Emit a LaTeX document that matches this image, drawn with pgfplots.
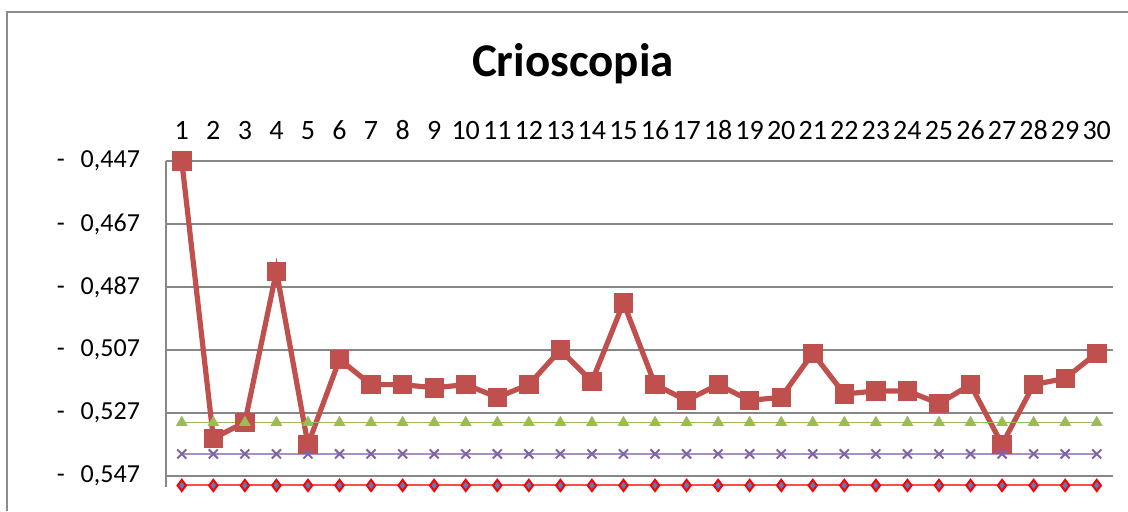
\documentclass[border=0pt]{standalone}
\usepackage{fontspec}
\setmainfont{Carlito}
\usepackage{pgfplots}
\usepackage{pgfplotstable}
\pgfplotsset{compat=1.18}
\definecolor{Grid}{HTML}{878787}
\definecolor{Frame}{HTML}{8C8C8C}
\definecolor{Main}{HTML}{C0504D}
\definecolor{Green}{HTML}{9BBB59}
\definecolor{Purple}{HTML}{8064A2}
\definecolor{PurpleLine}{HTML}{A592C4}
\definecolor{Blue}{HTML}{4F81BD}

% x, crioscopia, three reference levels
\pgfplotstableread{
x  crio    lvA    lvB    lvC
1  -0.447  -0.530 -0.540 -0.550
2  -0.535  -0.530 -0.540 -0.550
3  -0.530  -0.530 -0.540 -0.550
4  -0.482  -0.530 -0.540 -0.550
5  -0.537  -0.530 -0.540 -0.550
6  -0.510  -0.530 -0.540 -0.550
7  -0.518  -0.530 -0.540 -0.550
8  -0.518  -0.530 -0.540 -0.550
9  -0.519  -0.530 -0.540 -0.550
10 -0.518  -0.530 -0.540 -0.550
11 -0.522  -0.530 -0.540 -0.550
12 -0.518  -0.530 -0.540 -0.550
13 -0.507  -0.530 -0.540 -0.550
14 -0.517  -0.530 -0.540 -0.550
15 -0.492  -0.530 -0.540 -0.550
16 -0.518  -0.530 -0.540 -0.550
17 -0.523  -0.530 -0.540 -0.550
18 -0.518  -0.530 -0.540 -0.550
19 -0.523  -0.530 -0.540 -0.550
20 -0.522  -0.530 -0.540 -0.550
21 -0.508  -0.530 -0.540 -0.550
22 -0.521  -0.530 -0.540 -0.550
23 -0.520  -0.530 -0.540 -0.550
24 -0.520  -0.530 -0.540 -0.550
25 -0.524  -0.530 -0.540 -0.550
26 -0.518  -0.530 -0.540 -0.550
27 -0.537  -0.530 -0.540 -0.550
28 -0.518  -0.530 -0.540 -0.550
29 -0.516  -0.530 -0.540 -0.550
30 -0.508  -0.530 -0.540 -0.550
}\crio

\begin{document}
\begin{tikzpicture}
\path[use as bounding box] (-83pt,-12pt) rectangle (481pt,243.5pt);
\draw[Frame,line width=0.75pt] (-79.5pt,-12pt) -- (-79.5pt,237.5pt) -- (481pt,237.5pt);
\begin{axis}[
  at={(0,0)},anchor=south west,
  scale only axis,width=473.25pt,height=163pt,
  xmin=0.5,xmax=30.5,
  ymin=-0.5505,ymax=-0.447,
  axis x line*=top,axis y line*=left,
  axis line style={Grid,line width=0.75pt},
  xtick={1,...,30},
  ytick={-0.547,-0.527,-0.507,-0.487,-0.467,-0.447},
  yticklabels={{-\hspace{8pt}0,547},{-\hspace{8pt}0,527},{-\hspace{8pt}0,507},{-\hspace{8pt}0,487},{-\hspace{8pt}0,467},{-\hspace{8pt}0,447}},
  major tick length=0pt,
  ymajorgrids,grid style={Grid,line width=0.75pt},
  yticklabel style={font=\fontsize{13}{13}\selectfont,xshift=-9.5pt},
  xticklabel style={font=\fontsize{14}{14}\selectfont,yshift=7pt},
  /pgf/number format/assume math mode=true,
  clip=false,
]
\addplot[Main,line width=2.6pt,mark=square*,mark size=4.6pt,
  mark options={fill=Main,draw=Main,line width=0.4pt}] table[x=x,y=crio] {\crio};
\addplot[Green,line width=0.7pt,mark=triangle*,mark size=2.7pt,
  mark options={fill=Green,draw=Green}] table[x=x,y=lvA] {\crio};
\addplot[PurpleLine,line width=0.7pt,mark=x,mark size=3.2pt,
  mark options={draw=Purple,line width=1pt}] table[x=x,y=lvB] {\crio};
\addplot[red!70!white,line width=1pt,mark=diamond*,mark size=2.8pt,
  mark options={fill=Blue,draw=red,line width=1pt}] table[x=x,y=lvC] {\crio};
\end{axis}
\node[font=\bfseries\fontsize{23.5}{24}\selectfont] at (203.5pt,211.5pt) {Crioscopia};
\end{tikzpicture}
\end{document}
